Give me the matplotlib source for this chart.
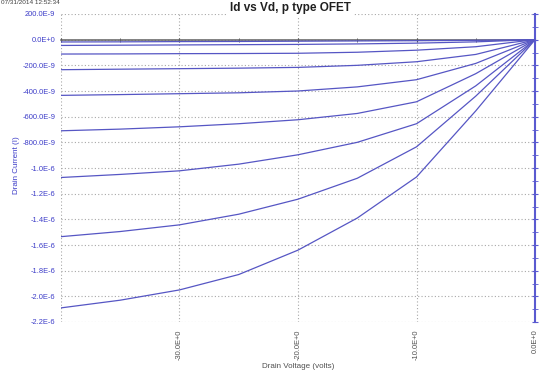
import numpy as np
import matplotlib
matplotlib.use("Agg")
import matplotlib.pyplot as plt
from matplotlib.ticker import MultipleLocator

plt.rcParams['font.family'] = ['Liberation Sans', 'DejaVu Sans']

# drain voltage sweep (V)
vd = [-40, -35, -30, -25, -20, -15, -10, -5, 0]

# drain current for each gate step (nA)
id_curves = [
    [-18, -17, -15, -14, -12, -10, -8, -5, 0],
    [-45, -43, -41, -39, -37, -33, -27, -17, 0],
    [-112, -111, -109, -108, -106, -98, -82, -55, 0],
    [-234, -230, -226, -222, -216, -200, -172, -115, 0],
    [-434, -428, -421, -414, -400, -368, -312, -185, 0],
    [-710, -697, -679, -655, -624, -575, -484, -265, 0],
    [-1074, -1050, -1022, -970, -897, -800, -655, -360, 0],
    [-1535, -1495, -1443, -1360, -1243, -1080, -835, -440, 0],
    [-2090, -2030, -1950, -1830, -1640, -1390, -1070, -555, 0],
]

yticks_na = [200, 0, -200, -400, -600, -800, -1000, -1200, -1400, -1600, -1800, -2000, -2200]
ytick_labels = ['200.0E-9', '0.0E+0', '-200.0E-9', '-400.0E-9', '-600.0E-9', '-800.0E-9',
                '-1.0E-6', '-1.2E-6', '-1.4E-6', '-1.6E-6', '-1.8E-6', '-2.0E-6', '-2.2E-6']
xticks = [-40, -30, -20, -10, 0]
xtick_labels = ['', '-30.0E+0', '-20.0E+0', '-10.0E+0', '0.0E+0']

line_col = '#5656c4'
blue_txt = '#3c3cc8'
grey_txt = '#505050'

fig = plt.figure(figsize=(5.44, 3.71), dpi=100)
ax = fig.add_axes([61 / 544, 1 - 322 / 371, (535 - 61) / 544, (322 - 14) / 371])

for ic in id_curves:
    ax.plot(vd, np.array(ic) * 1e-9, color=line_col, lw=0.9, zorder=3)

ax.set_xlim(-40, 0)
ax.set_ylim(-2.2e-6, 2e-7)

ax.set_yticks(np.array(yticks_na) * 1e-9)
ax.set_yticklabels(ytick_labels)
ax.yaxis.set_minor_locator(MultipleLocator(1e-7))
ax.set_xticks(xticks)
ax.set_xticklabels(xtick_labels)
ax.xaxis.set_minor_locator(MultipleLocator(5))

ax.grid(True, which='major', color='#a8a8a8', linestyle=(0, (1, 2)), linewidth=0.8, zorder=1)

for s in ['left', 'bottom']:
    ax.spines[s].set_visible(False)
ax.spines['right'].set_color('#5a5ad0')
ax.spines['right'].set_linewidth(1.5)
ax.spines['top'].set_position(('data', 0))
ax.spines['top'].set_color('#606060')
ax.spines['top'].set_linewidth(1.1)
ax.spines['top'].set_zorder(2)

ax.tick_params(axis='y', which='both', left=False, right=True, labelleft=True,
               labelright=False, direction='inout', color='#5a5ad0', length=4,
               labelsize=5.4, labelcolor=blue_txt, pad=2)
ax.tick_params(axis='x', which='both', top=True, bottom=False, labeltop=False,
               labelbottom=True, direction='inout', color='#505050', length=3,
               labelsize=5.4, labelcolor=grey_txt, pad=4, labelrotation=90)

fig.text(290 / 544, 1 - 8 / 371, 'Id vs Vd, p type OFET', ha='center', va='center',
         fontsize=8.5, fontweight='bold', color='#202020',
         bbox=dict(fc='white', ec='none', pad=1.5))
fig.text(1 / 544, 1 - 3 / 371, '07/31/2014 12:52:34', ha='left', va='center',
         fontsize=4.6, color='#404040')
fig.text(17 / 544, 1 - 165 / 371, 'Drain Current (I)', ha='center', va='center',
         rotation=90, fontsize=5.8, color=blue_txt)
fig.text(298 / 544, 1 - 366 / 371, 'Drain Voltage (volts)', ha='center', va='center',
         fontsize=5.8, color=grey_txt)

fig.savefig('out.png', dpi=100)
